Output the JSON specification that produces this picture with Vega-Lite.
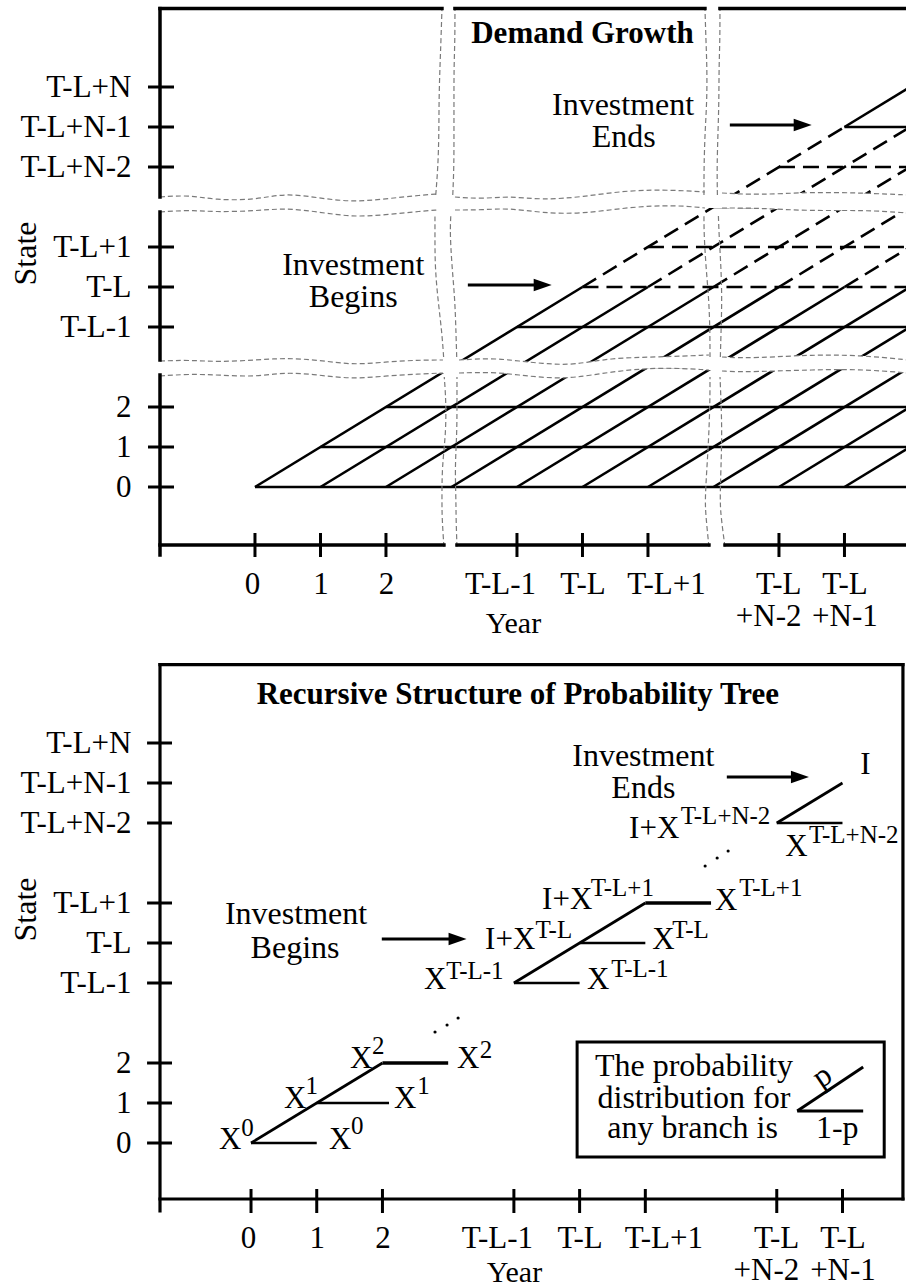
{
  "$schema": "https://vega.github.io/schema/vega-lite/v6.json",
  "background": "white",
  "padding": {"left": 9, "top": 5, "right": 0, "bottom": 0},
  "spacing": 24,
  "config": {"view": {"stroke": null}, "font": "Liberation Serif"},
  "datasets": {
    "latticeTop": [
      {"u": 0, "v": 0, "u2": 9.97, "v2": 0, "period": "normal"},
      {"u": 1, "v": 1, "u2": 9.97, "v2": 1, "period": "normal"},
      {"u": 2, "v": 2, "u2": 9.97, "v2": 2, "period": "normal"},
      {"u": 3, "v": 3, "u2": 9.97, "v2": 3, "period": "normal"},
      {"u": 4, "v": 4, "u2": 9.97, "v2": 4, "period": "normal"},
      {"u": 5, "v": 5, "u2": 9.97, "v2": 5, "period": "investment"},
      {"u": 6, "v": 6, "u2": 9.97, "v2": 6, "period": "investment"},
      {"u": 7, "v": 7, "u2": 9.97, "v2": 7, "period": "investment"},
      {"u": 8, "v": 8, "u2": 9.97, "v2": 8, "period": "investment"},
      {"u": 9, "v": 9, "u2": 9.97, "v2": 9, "period": "normal"},
      {"u": 0, "v": 0, "u2": 5, "v2": 5, "period": "normal"},
      {"u": 5, "v": 5, "u2": 9, "v2": 9, "period": "investment"},
      {"u": 9, "v": 9, "u2": 9.97, "v2": 9.97, "period": "normal"},
      {"u": 1, "v": 0, "u2": 6, "v2": 5, "period": "normal"},
      {"u": 6, "v": 5, "u2": 9.97, "v2": 8.97, "period": "investment"},
      {"u": 2, "v": 0, "u2": 7, "v2": 5, "period": "normal"},
      {"u": 7, "v": 5, "u2": 9.97, "v2": 7.97, "period": "investment"},
      {"u": 3, "v": 0, "u2": 8, "v2": 5, "period": "normal"},
      {"u": 8, "v": 5, "u2": 9.97, "v2": 6.97, "period": "investment"},
      {"u": 4, "v": 0, "u2": 9, "v2": 5, "period": "normal"},
      {"u": 9, "v": 5, "u2": 9.97, "v2": 5.97, "period": "investment"},
      {"u": 5, "v": 0, "u2": 9.97, "v2": 4.97, "period": "normal"},
      {"u": 6, "v": 0, "u2": 9.97, "v2": 3.97, "period": "normal"},
      {"u": 7, "v": 0, "u2": 9.97, "v2": 2.97, "period": "normal"},
      {"u": 8, "v": 0, "u2": 9.97, "v2": 1.97, "period": "normal"},
      {"u": 9, "v": 0, "u2": 9.97, "v2": 0.97, "period": "normal"}
    ],
    "gapsH": [
      {"gap": "h1", "seg": "L", "u": -1.45, "vt": 7.25, "vb": 6.875},
      {"gap": "h1", "seg": "L", "u": -1.008, "vt": 7.3, "vb": 6.925},
      {"gap": "h1", "seg": "L", "u": -0.611, "vt": 7.175, "vb": 6.875},
      {"gap": "h1", "seg": "L", "u": 0, "vt": 7.175, "vb": 6.9},
      {"gap": "h1", "seg": "L", "u": 0.458, "vt": 7.35, "vb": 6.975},
      {"gap": "h1", "seg": "L", "u": 0.977, "vt": 7.225, "vb": 6.875},
      {"gap": "h1", "seg": "L", "u": 1.481, "vt": 7.125, "vb": 6.75},
      {"gap": "h1", "seg": "L", "u": 1.985, "vt": 7.2, "vb": 6.8},
      {"gap": "h1", "seg": "L", "u": 2.55, "vt": 7.3, "vb": 6.9},
      {"gap": "h1", "seg": "L", "u": 2.794, "vt": 7.325, "vb": 6.925},
      {"gap": "h1", "seg": "M", "u": 3.053, "vt": 7.25, "vb": 6.925},
      {"gap": "h1", "seg": "M", "u": 3.466, "vt": 7.2, "vb": 6.925},
      {"gap": "h1", "seg": "M", "u": 3.878, "vt": 7.275, "vb": 6.975},
      {"gap": "h1", "seg": "M", "u": 4.382, "vt": 7.175, "vb": 6.85},
      {"gap": "h1", "seg": "M", "u": 4.992, "vt": 7.25, "vb": 6.825},
      {"gap": "h1", "seg": "M", "u": 5.71, "vt": 7.425, "vb": 7.0},
      {"gap": "h1", "seg": "M", "u": 6.412, "vt": 7.425, "vb": 7.05},
      {"gap": "h1", "seg": "M", "u": 6.87, "vt": 7.375, "vb": 6.975},
      {"gap": "h1", "seg": "R", "u": 7.13, "vt": 7.35, "vb": 6.975},
      {"gap": "h1", "seg": "R", "u": 7.695, "vt": 7.3, "vb": 6.975},
      {"gap": "h1", "seg": "R", "u": 8.458, "vt": 7.375, "vb": 6.9},
      {"gap": "h1", "seg": "R", "u": 9.313, "vt": 7.35, "vb": 6.925},
      {"gap": "h1", "seg": "R", "u": 9.97, "vt": 7.3, "vb": 6.85},
      {"gap": "h2", "seg": "L", "u": -1.45, "vt": 3.15, "vb": 2.775},
      {"gap": "h2", "seg": "L", "u": -1.008, "vt": 3.175, "vb": 2.825},
      {"gap": "h2", "seg": "L", "u": -0.55, "vt": 3.125, "vb": 2.8},
      {"gap": "h2", "seg": "L", "u": 0, "vt": 3.175, "vb": 2.75},
      {"gap": "h2", "seg": "L", "u": 0.458, "vt": 3.225, "vb": 2.875},
      {"gap": "h2", "seg": "L", "u": 0.977, "vt": 3.175, "vb": 2.8},
      {"gap": "h2", "seg": "L", "u": 1.481, "vt": 3.05, "vb": 2.7},
      {"gap": "h2", "seg": "L", "u": 1.985, "vt": 3.125, "vb": 2.775},
      {"gap": "h2", "seg": "L", "u": 2.504, "vt": 3.175, "vb": 2.825},
      {"gap": "h2", "seg": "L", "u": 2.87, "vt": 3.175, "vb": 2.85},
      {"gap": "h2", "seg": "M", "u": 3.115, "vt": 3.175, "vb": 2.85},
      {"gap": "h2", "seg": "M", "u": 3.618, "vt": 3.225, "vb": 2.875},
      {"gap": "h2", "seg": "M", "u": 4.031, "vt": 3.15, "vb": 2.8},
      {"gap": "h2", "seg": "M", "u": 4.458, "vt": 3.075, "vb": 2.725},
      {"gap": "h2", "seg": "M", "u": 4.885, "vt": 3.05, "vb": 2.725},
      {"gap": "h2", "seg": "M", "u": 5.405, "vt": 3.225, "vb": 2.875},
      {"gap": "h2", "seg": "M", "u": 6.168, "vt": 3.25, "vb": 3.0},
      {"gap": "h2", "seg": "M", "u": 6.931, "vt": 3.3, "vb": 2.925},
      {"gap": "h2", "seg": "R", "u": 7.13, "vt": 3.25, "vb": 2.9},
      {"gap": "h2", "seg": "R", "u": 7.435, "vt": 3.225, "vb": 2.875},
      {"gap": "h2", "seg": "R", "u": 7.939, "vt": 3.25, "vb": 2.9},
      {"gap": "h2", "seg": "R", "u": 8.458, "vt": 3.3, "vb": 2.925},
      {"gap": "h2", "seg": "R", "u": 9.221, "vt": 3.3, "vb": 2.95},
      {"gap": "h2", "seg": "R", "u": 9.97, "vt": 3.175, "vb": 2.85}
    ],
    "gapsV": [
      {"gap": "v1", "seg": "T", "v": 11.975, "ul": 2.855, "ur": 3.053},
      {"gap": "v1", "seg": "T", "v": 11.175, "ul": 2.84, "ur": 3.053},
      {"gap": "v1", "seg": "T", "v": 10.5, "ul": 2.824, "ur": 3.038},
      {"gap": "v1", "seg": "T", "v": 9.675, "ul": 2.809, "ur": 3.038},
      {"gap": "v1", "seg": "T", "v": 8.85, "ul": 2.809, "ur": 3.038},
      {"gap": "v1", "seg": "T", "v": 8.0, "ul": 2.794, "ur": 3.038},
      {"gap": "v1", "seg": "T", "v": 7.3, "ul": 2.76, "ur": 3.02},
      {"gap": "v1", "seg": "X", "v": 7.05, "ul": 2.748, "ur": 3.0},
      {"gap": "v1", "seg": "M", "v": 6.8, "ul": 2.748, "ur": 2.99},
      {"gap": "v1", "seg": "M", "v": 6.35, "ul": 2.748, "ur": 2.977},
      {"gap": "v1", "seg": "M", "v": 5.5, "ul": 2.748, "ur": 3.008},
      {"gap": "v1", "seg": "M", "v": 4.675, "ul": 2.794, "ur": 3.053},
      {"gap": "v1", "seg": "M", "v": 3.85, "ul": 2.855, "ur": 3.069},
      {"gap": "v1", "seg": "M", "v": 3.25, "ul": 2.88, "ur": 3.08},
      {"gap": "v1", "seg": "X", "v": 3.0, "ul": 2.885, "ur": 3.084},
      {"gap": "v1", "seg": "B", "v": 2.75, "ul": 2.89, "ur": 3.084},
      {"gap": "v1", "seg": "B", "v": 2.175, "ul": 2.916, "ur": 3.084},
      {"gap": "v1", "seg": "B", "v": 1.35, "ul": 2.916, "ur": 3.084},
      {"gap": "v1", "seg": "B", "v": 0.5, "ul": 2.855, "ur": 3.053},
      {"gap": "v1", "seg": "B", "v": -0.325, "ul": 2.855, "ur": 3.069},
      {"gap": "v1", "seg": "B", "v": -0.75, "ul": 2.855, "ur": 3.069},
      {"gap": "v1", "seg": "B", "v": -1.5, "ul": 2.885, "ur": 3.084},
      {"gap": "v2", "seg": "T", "v": 11.975, "ul": 6.87, "ur": 7.099},
      {"gap": "v2", "seg": "T", "v": 11.175, "ul": 6.885, "ur": 7.099},
      {"gap": "v2", "seg": "T", "v": 10.5, "ul": 6.901, "ur": 7.084},
      {"gap": "v2", "seg": "T", "v": 9.675, "ul": 6.901, "ur": 7.084},
      {"gap": "v2", "seg": "T", "v": 8.85, "ul": 6.87, "ur": 7.069},
      {"gap": "v2", "seg": "T", "v": 8.0, "ul": 6.855, "ur": 7.053},
      {"gap": "v2", "seg": "T", "v": 7.3, "ul": 6.855, "ur": 7.06},
      {"gap": "v2", "seg": "X", "v": 7.05, "ul": 6.855, "ur": 7.07},
      {"gap": "v2", "seg": "M", "v": 6.8, "ul": 6.855, "ur": 7.075},
      {"gap": "v2", "seg": "M", "v": 6.35, "ul": 6.855, "ur": 7.084},
      {"gap": "v2", "seg": "M", "v": 5.5, "ul": 6.885, "ur": 7.115},
      {"gap": "v2", "seg": "M", "v": 4.675, "ul": 6.931, "ur": 7.13},
      {"gap": "v2", "seg": "M", "v": 3.85, "ul": 6.947, "ur": 7.115},
      {"gap": "v2", "seg": "M", "v": 3.25, "ul": 6.947, "ur": 7.105},
      {"gap": "v2", "seg": "X", "v": 3.0, "ul": 6.947, "ur": 7.099},
      {"gap": "v2", "seg": "B", "v": 2.75, "ul": 6.947, "ur": 7.1},
      {"gap": "v2", "seg": "B", "v": 2.175, "ul": 6.947, "ur": 7.115},
      {"gap": "v2", "seg": "B", "v": 1.35, "ul": 6.931, "ur": 7.13},
      {"gap": "v2", "seg": "B", "v": 0.5, "ul": 6.901, "ur": 7.115},
      {"gap": "v2", "seg": "B", "v": -0.325, "ul": 6.87, "ur": 7.099},
      {"gap": "v2", "seg": "B", "v": -0.75, "ul": 6.885, "ur": 7.115},
      {"gap": "v2", "seg": "B", "v": -1.5, "ul": 6.931, "ur": 7.176}
    ],
    "framesTop": [
      {"u": -1.45, "v": 11.96, "u2": 2.855, "v2": 11.96},
      {"u": 3.053, "v": 11.96, "u2": 6.87, "v2": 11.96},
      {"u": 7.099, "v": 11.96, "u2": 9.97, "v2": 11.96},
      {"u": -1.45, "v": 11.96, "u2": -1.45, "v2": 7.25},
      {"u": -1.45, "v": 6.875, "u2": -1.45, "v2": 3.175},
      {"u": -1.45, "v": 2.8, "u2": -1.45, "v2": -1.7},
      {"u": -1.45, "v": -1.45, "u2": 2.885, "v2": -1.45},
      {"u": 3.084, "v": -1.45, "u2": 6.931, "v2": -1.45},
      {"u": 7.176, "v": -1.45, "u2": 9.97, "v2": -1.45}
    ],
    "ticksTop": [
      {"u": 0, "v": -1.75, "u2": 0, "v2": -1.15},
      {"u": 1, "v": -1.75, "u2": 1, "v2": -1.15},
      {"u": 2, "v": -1.75, "u2": 2, "v2": -1.15},
      {"u": 4, "v": -1.75, "u2": 4, "v2": -1.15},
      {"u": 5, "v": -1.75, "u2": 5, "v2": -1.15},
      {"u": 6, "v": -1.75, "u2": 6, "v2": -1.15},
      {"u": 8, "v": -1.75, "u2": 8, "v2": -1.15},
      {"u": 9, "v": -1.75, "u2": 9, "v2": -1.15},
      {"u": -1.633, "v": 0, "u2": -1.236, "v2": 0},
      {"u": -1.633, "v": 1, "u2": -1.236, "v2": 1},
      {"u": -1.633, "v": 2, "u2": -1.236, "v2": 2},
      {"u": -1.633, "v": 4, "u2": -1.236, "v2": 4},
      {"u": -1.633, "v": 5, "u2": -1.236, "v2": 5},
      {"u": -1.633, "v": 6, "u2": -1.236, "v2": 6},
      {"u": -1.633, "v": 8, "u2": -1.236, "v2": 8},
      {"u": -1.633, "v": 9, "u2": -1.236, "v2": 9},
      {"u": -1.633, "v": 10, "u2": -1.236, "v2": 10}
    ],
    "titleTop": [{"u": 5.0, "v": 11.1, "t": "Demand Growth"}],
    "textTop": [
      {"u": 5.62, "v": 9.3, "t": "Investment"},
      {"u": 5.63, "v": 8.5, "t": "Ends"},
      {"u": 1.5, "v": 5.3, "t": "Investment"},
      {"u": 1.5, "v": 4.5, "t": "Begins"}
    ],
    "arrowsTop": [
      {"u": 3.25, "ue": 4.43, "u2": 4.53, "v": 5.05},
      {"u": 7.25, "ue": 8.4, "u2": 8.5, "v": 9.05}
    ],
    "treeBottom": [
      {"u": 0, "v": 0, "u2": 2, "v2": 2},
      {"u": 0, "v": 0, "u2": 1, "v2": 0},
      {"u": 1, "v": 1, "u2": 2.1, "v2": 1},
      {"u": 4, "v": 4, "u2": 6, "v2": 6},
      {"u": 4, "v": 4, "u2": 5, "v2": 4},
      {"u": 5, "v": 5, "u2": 6, "v2": 5},
      {"u": 8, "v": 8, "u2": 9, "v2": 9},
      {"u": 8, "v": 8, "u2": 9, "v2": 8}
    ],
    "treeBottomSpan": [
      {"u": 2, "v": 2, "u2": 3, "v2": 2},
      {"u": 6, "v": 6, "u2": 7, "v2": 6}
    ],
    "legendBranch": [
      {"u": 8.311, "v": 0.8, "u2": 9.315, "v2": 1.9},
      {"u": 8.311, "v": 0.8, "u2": 9.315, "v2": 0.8}
    ],
    "legendBox": [{"u": 4.962, "u2": 9.635, "v": 2.525, "v2": -0.35}],
    "framesBottom": [
      {"u": -1.385, "v": 11.96, "u2": 9.92, "v2": 11.96},
      {"u": -1.385, "v": 11.96, "u2": -1.385, "v2": -1.7},
      {"u": -1.385, "v": -1.4, "u2": 9.92, "v2": -1.4},
      {"u": 9.92, "v": 11.96, "u2": 9.92, "v2": -1.4}
    ],
    "ticksBottom": [
      {"u": 0, "v": -1.75, "u2": 0, "v2": -1.15},
      {"u": 1, "v": -1.75, "u2": 1, "v2": -1.15},
      {"u": 2, "v": -1.75, "u2": 2, "v2": -1.15},
      {"u": 4, "v": -1.75, "u2": 4, "v2": -1.15},
      {"u": 5, "v": -1.75, "u2": 5, "v2": -1.15},
      {"u": 6, "v": -1.75, "u2": 6, "v2": -1.15},
      {"u": 8, "v": -1.75, "u2": 8, "v2": -1.15},
      {"u": 9, "v": -1.75, "u2": 9, "v2": -1.15},
      {"u": -1.582, "v": 0, "u2": -1.202, "v2": 0},
      {"u": -1.582, "v": 1, "u2": -1.202, "v2": 1},
      {"u": -1.582, "v": 2, "u2": -1.202, "v2": 2},
      {"u": -1.582, "v": 4, "u2": -1.202, "v2": 4},
      {"u": -1.582, "v": 5, "u2": -1.202, "v2": 5},
      {"u": -1.582, "v": 6, "u2": -1.202, "v2": 6},
      {"u": -1.582, "v": 8, "u2": -1.202, "v2": 8},
      {"u": -1.582, "v": 9, "u2": -1.202, "v2": 9},
      {"u": -1.582, "v": 10, "u2": -1.202, "v2": 10}
    ],
    "titleBottom": [{"u": 4.06, "v": 10.975, "t": "Recursive Structure of Probability Tree"}],
    "textBottom": [
      {"u": 5.97, "v": 9.425, "t": "Investment"},
      {"u": 5.97, "v": 8.625, "t": "Ends"},
      {"u": 0.685, "v": 5.475, "t": "Investment"},
      {"u": 0.67, "v": 4.625, "t": "Begins"},
      {"u": 6.74, "v": 1.675, "t": "The probability"},
      {"u": 6.74, "v": 0.875, "t": "distribution for"},
      {"u": 6.72, "v": 0.125, "t": "any branch is"},
      {"u": 8.92, "v": 0.125, "t": "1-p"}
    ],
    "nodeLabels": [
      {"u": -0.487, "v": -0.15, "t": "X"},
      {"u": 1.187, "v": -0.15, "t": "X"},
      {"u": 0.502, "v": 0.875, "t": "X"},
      {"u": 2.177, "v": 0.875, "t": "X"},
      {"u": 1.507, "v": 1.875, "t": "X"},
      {"u": 3.135, "v": 1.875, "t": "X"},
      {"u": 2.633, "v": 3.85, "t": "X"},
      {"u": 5.114, "v": 3.85, "t": "X"},
      {"u": 3.562, "v": 4.85, "t": "I+X"},
      {"u": 6.104, "v": 4.85, "t": "X"},
      {"u": 4.429, "v": 5.85, "t": "I+X"},
      {"u": 7.062, "v": 5.825, "t": "X"},
      {"u": 5.753, "v": 7.625, "t": "I+X"},
      {"u": 8.128, "v": 7.175, "t": "X"},
      {"u": 9.269, "v": 9.225, "t": "I"}
    ],
    "superscripts": [
      {"u": -0.15, "v": 0.175, "t": "0"},
      {"u": 1.52, "v": 0.225, "t": "0"},
      {"u": 0.83, "v": 1.225, "t": "1"},
      {"u": 2.53, "v": 1.225, "t": "1"},
      {"u": 1.84, "v": 2.225, "t": "2"},
      {"u": 3.48, "v": 2.125, "t": "2"},
      {"u": 2.97, "v": 4.1, "t": "T-L-1"},
      {"u": 5.48, "v": 4.15, "t": "T-L-1"},
      {"u": 4.33, "v": 5.125, "t": "T-L"},
      {"u": 6.41, "v": 5.125, "t": "T-L"},
      {"u": 5.17, "v": 6.175, "t": "T-L+1"},
      {"u": 7.43, "v": 6.175, "t": "T-L+1"},
      {"u": 6.54, "v": 7.975, "t": "T-L+N-2"},
      {"u": 8.49, "v": 7.5, "t": "T-L+N-2"}
    ],
    "branchP": [{"u": 8.69, "v": 1.675, "t": "p"}],
    "dotsBottom": [
      {"u": 2.8, "v": 2.775},
      {"u": 2.983, "v": 2.95},
      {"u": 3.151, "v": 3.125},
      {"u": 6.91, "v": 6.925},
      {"u": 7.093, "v": 7.125},
      {"u": 7.26, "v": 7.3}
    ],
    "arrowsBottom": [
      {"u": 1.99, "ue": 3.18, "u2": 3.28, "v": 5.1},
      {"u": 7.24, "ue": 8.39, "u2": 8.49, "v": 9.15}
    ]
  },
  "vconcat": [
    {
      "width": 748,
      "height": 537,
      "layer": [
        {
          "data": {"name": "latticeTop"},
          "transform": [{"filter": "datum.period == 'normal'"}],
          "mark": {"type": "rule", "color": "black", "strokeWidth": 2.6},
          "encoding": {
            "x": {"field": "u", "type": "quantitative", "scale": {"domain": [-1.45, 9.97], "nice": false, "zero": false}},
            "y": {"field": "v", "type": "quantitative", "scale": {"domain": [-1.45, 11.975], "nice": false, "zero": false}},
            "x2": {"field": "u2"},
            "y2": {"field": "v2"}
          }
        },
        {
          "data": {"name": "latticeTop"},
          "transform": [{"filter": "datum.period == 'investment'"}],
          "mark": {"type": "rule", "color": "black", "strokeWidth": 2.6, "strokeDash": [16, 8]},
          "encoding": {
            "x": {"field": "u", "type": "quantitative", "scale": {"domain": [-1.45, 9.97], "nice": false, "zero": false}},
            "y": {"field": "v", "type": "quantitative", "scale": {"domain": [-1.45, 11.975], "nice": false, "zero": false}},
            "x2": {"field": "u2"},
            "y2": {"field": "v2"}
          }
        },
        {
          "data": {"name": "gapsH"},
          "mark": {"type": "area", "orient": "vertical", "interpolate": "basis", "fill": "white", "opacity": 1},
          "encoding": {
            "x": {"field": "u", "type": "quantitative", "scale": {"domain": [-1.45, 9.97], "nice": false, "zero": false}},
            "y": {"field": "vt", "type": "quantitative", "scale": {"domain": [-1.45, 11.975], "nice": false, "zero": false}},
            "y2": {"field": "vb"},
            "detail": {"field": "gap"}
          }
        },
        {
          "data": {"name": "gapsV"},
          "mark": {"type": "area", "orient": "horizontal", "interpolate": "basis", "fill": "white", "opacity": 1},
          "encoding": {
            "y": {"field": "v", "type": "quantitative", "scale": {"domain": [-1.45, 11.975], "nice": false, "zero": false}},
            "x": {"field": "ul", "type": "quantitative", "scale": {"domain": [-1.45, 9.97], "nice": false, "zero": false}},
            "x2": {"field": "ur"},
            "detail": {"field": "gap"},
            "order": {"field": "v", "type": "quantitative"}
          }
        },
        {
          "data": {"name": "gapsH"},
          "mark": {"type": "line", "interpolate": "basis", "color": "#7a7a7a", "strokeWidth": 1.2, "strokeDash": [5, 3]},
          "encoding": {
            "x": {"field": "u", "type": "quantitative", "scale": {"domain": [-1.45, 9.97], "nice": false, "zero": false}},
            "y": {"field": "vt", "type": "quantitative", "scale": {"domain": [-1.45, 11.975], "nice": false, "zero": false}},
            "detail": [{"field": "gap"}, {"field": "seg"}]
          }
        },
        {
          "data": {"name": "gapsH"},
          "mark": {"type": "line", "interpolate": "basis", "color": "#7a7a7a", "strokeWidth": 1.2, "strokeDash": [5, 3]},
          "encoding": {
            "x": {"field": "u", "type": "quantitative", "scale": {"domain": [-1.45, 9.97], "nice": false, "zero": false}},
            "y": {"field": "vb", "type": "quantitative", "scale": {"domain": [-1.45, 11.975], "nice": false, "zero": false}},
            "detail": [{"field": "gap"}, {"field": "seg"}]
          }
        },
        {
          "data": {"name": "gapsV"},
          "transform": [{"filter": "datum.seg != 'X'"}],
          "mark": {"type": "line", "interpolate": "basis", "color": "#7a7a7a", "strokeWidth": 1.2, "strokeDash": [5, 3]},
          "encoding": {
            "x": {"field": "ul", "type": "quantitative", "scale": {"domain": [-1.45, 9.97], "nice": false, "zero": false}},
            "y": {"field": "v", "type": "quantitative", "scale": {"domain": [-1.45, 11.975], "nice": false, "zero": false}},
            "detail": [{"field": "gap"}, {"field": "seg"}],
            "order": {"field": "v", "type": "quantitative"}
          }
        },
        {
          "data": {"name": "gapsV"},
          "transform": [{"filter": "datum.seg != 'X'"}],
          "mark": {"type": "line", "interpolate": "basis", "color": "#7a7a7a", "strokeWidth": 1.2, "strokeDash": [5, 3]},
          "encoding": {
            "x": {"field": "ur", "type": "quantitative", "scale": {"domain": [-1.45, 9.97], "nice": false, "zero": false}},
            "y": {"field": "v", "type": "quantitative", "scale": {"domain": [-1.45, 11.975], "nice": false, "zero": false}},
            "detail": [{"field": "gap"}, {"field": "seg"}],
            "order": {"field": "v", "type": "quantitative"}
          }
        },
        {
          "data": {"name": "framesTop"},
          "mark": {"type": "rule", "color": "black", "strokeWidth": 3.5, "strokeCap": "square"},
          "encoding": {
            "x": {
              "field": "u", "type": "quantitative",
              "scale": {"domain": [-1.45, 9.97], "nice": false, "zero": false},
              "axis": {
                "title": "Year", "values": [0, 1, 2, 4, 5, 6, 8, 9],
                "labelExpr": "['0','1','2','','T-L-1','T-L','T-L+1','',['T-L','+N-2'],['T-L','+N-1']][datum.value]",
                "domain": false, "ticks": false, "tickSize": 0, "grid": false,
                "labelFont": "Liberation Serif", "labelFontSize": 31, "labelColor": "black", "labelPadding": 24, "labelLineHeight": 32,
                "labelAlign": {"expr": "datum.value == 8 ? 'right' : 'center'"}, "labelBaseline": "top", "labelFlush": false, "labelOverlap": false,
                "labelOffset": {"expr": "datum.value == 4 ? -17 : (datum.value == 6 ? 18 : (datum.value == 0 ? -3 : (datum.value == 8 ? 22 : 0)))"},
                "titleFont": "Liberation Serif", "titleFontSize": 30, "titleFontWeight": "normal", "titleColor": "black",
                "titleX": 353, "titleY": 87, "titleAlign": "center", "titleBaseline": "alphabetic"
              }
            },
            "y": {
              "field": "v", "type": "quantitative",
              "scale": {"domain": [-1.45, 11.975], "nice": false, "zero": false},
              "axis": {
                "title": "State", "values": [0, 1, 2, 4, 5, 6, 8, 9, 10],
                "labelExpr": "['0','1','2','','T-L-1','T-L','T-L+1','','T-L+N-2','T-L+N-1','T-L+N'][datum.value]",
                "domain": false, "ticks": false, "tickSize": 0, "grid": false,
                "labelFont": "Liberation Serif", "labelFontSize": 31, "labelColor": "black", "labelPadding": 29,
                "labelAlign": "right", "labelBaseline": "middle", "labelOverlap": false, "labelFlush": false,
                "titleFont": "Liberation Serif", "titleFontSize": 32, "titleFontWeight": "normal", "titleColor": "black",
                "titleAngle": 270, "titleX": -125, "titleY": 245, "titleAlign": "center", "titleBaseline": "alphabetic"
              }
            },
            "x2": {"field": "u2"},
            "y2": {"field": "v2"}
          }
        },
        {
          "data": {"name": "ticksTop"},
          "mark": {"type": "rule", "color": "black", "strokeWidth": 3},
          "encoding": {
            "x": {"field": "u", "type": "quantitative", "scale": {"domain": [-1.45, 9.97], "nice": false, "zero": false}},
            "y": {"field": "v", "type": "quantitative", "scale": {"domain": [-1.45, 11.975], "nice": false, "zero": false}},
            "x2": {"field": "u2"},
            "y2": {"field": "v2"}
          }
        },
        {
          "data": {"name": "titleTop"},
          "mark": {"type": "text", "font": "Liberation Serif", "fontSize": 31, "fontWeight": "bold", "align": "center", "baseline": "alphabetic", "color": "black"},
          "encoding": {
            "x": {"field": "u", "type": "quantitative", "scale": {"domain": [-1.45, 9.97], "nice": false, "zero": false}},
            "y": {"field": "v", "type": "quantitative", "scale": {"domain": [-1.45, 11.975], "nice": false, "zero": false}},
            "text": {"field": "t"}
          }
        },
        {
          "data": {"name": "textTop"},
          "mark": {"type": "text", "font": "Liberation Serif", "fontSize": 32, "align": "center", "baseline": "alphabetic", "color": "black"},
          "encoding": {
            "x": {"field": "u", "type": "quantitative", "scale": {"domain": [-1.45, 9.97], "nice": false, "zero": false}},
            "y": {"field": "v", "type": "quantitative", "scale": {"domain": [-1.45, 11.975], "nice": false, "zero": false}},
            "text": {"field": "t"}
          }
        },
        {
          "data": {"name": "arrowsTop"},
          "mark": {"type": "rule", "color": "black", "strokeWidth": 3},
          "encoding": {
            "x": {"field": "u", "type": "quantitative", "scale": {"domain": [-1.45, 9.97], "nice": false, "zero": false}},
            "x2": {"field": "ue"},
            "y": {"field": "v", "type": "quantitative", "scale": {"domain": [-1.45, 11.975], "nice": false, "zero": false}}
          }
        },
        {
          "data": {"name": "arrowsTop"},
          "mark": {"type": "point", "shape": "M -2,-0.7 L 0,0 L -2,0.7 Z", "filled": true, "size": 324, "color": "black", "opacity": 1, "strokeWidth": 0},
          "encoding": {
            "x": {"field": "u2", "type": "quantitative", "scale": {"domain": [-1.45, 9.97], "nice": false, "zero": false}},
            "y": {"field": "v", "type": "quantitative", "scale": {"domain": [-1.45, 11.975], "nice": false, "zero": false}}
          }
        }
      ]
    },
    {
      "width": 748,
      "height": 535,
      "layer": [
        {
          "data": {"name": "framesBottom"},
          "mark": {"type": "rule", "color": "black", "strokeWidth": 3.2, "strokeCap": "square"},
          "encoding": {
            "x": {
              "field": "u", "type": "quantitative",
              "scale": {"domain": [-1.385, 9.997], "nice": false, "zero": false},
              "axis": {
                "title": "Year", "values": [0, 1, 2, 4, 5, 6, 8, 9],
                "labelExpr": "['0','1','2','','T-L-1','T-L','T-L+1','',['T-L','+N-2'],['T-L','+N-1']][datum.value]",
                "domain": false, "ticks": false, "tickSize": 0, "grid": false,
                "labelFont": "Liberation Serif", "labelFontSize": 31, "labelColor": "black", "labelPadding": 24, "labelLineHeight": 32,
                "labelAlign": {"expr": "datum.value == 8 ? 'right' : 'center'"}, "labelBaseline": "top", "labelFlush": false, "labelOverlap": false,
                "labelOffset": {"expr": "datum.value == 4 ? -17 : (datum.value == 6 ? 18 : (datum.value == 0 ? -3 : (datum.value == 8 ? 22 : 0)))"},
                "titleFont": "Liberation Serif", "titleFontSize": 30, "titleFontWeight": "normal", "titleColor": "black",
                "titleX": 354, "titleY": 82, "titleAlign": "center", "titleBaseline": "alphabetic"
              }
            },
            "y": {
              "field": "v", "type": "quantitative",
              "scale": {"domain": [-1.4, 11.975], "nice": false, "zero": false},
              "axis": {
                "title": "State", "values": [0, 1, 2, 4, 5, 6, 8, 9, 10],
                "labelExpr": "['0','1','2','','T-L-1','T-L','T-L+1','','T-L+N-2','T-L+N-1','T-L+N'][datum.value]",
                "domain": false, "ticks": false, "tickSize": 0, "grid": false,
                "labelFont": "Liberation Serif", "labelFontSize": 31, "labelColor": "black", "labelPadding": 29,
                "labelAlign": "right", "labelBaseline": "middle", "labelOverlap": false, "labelFlush": false,
                "titleFont": "Liberation Serif", "titleFontSize": 32, "titleFontWeight": "normal", "titleColor": "black",
                "titleAngle": 270, "titleX": -125, "titleY": 245, "titleAlign": "center", "titleBaseline": "alphabetic"
              }
            },
            "x2": {"field": "u2"},
            "y2": {"field": "v2"}
          }
        },
        {
          "data": {"name": "ticksBottom"},
          "mark": {"type": "rule", "color": "black", "strokeWidth": 3},
          "encoding": {
            "x": {"field": "u", "type": "quantitative", "scale": {"domain": [-1.385, 9.997], "nice": false, "zero": false}},
            "y": {"field": "v", "type": "quantitative", "scale": {"domain": [-1.4, 11.975], "nice": false, "zero": false}},
            "x2": {"field": "u2"},
            "y2": {"field": "v2"}
          }
        },
        {
          "data": {"name": "treeBottom"},
          "mark": {"type": "rule", "color": "black", "strokeWidth": 2.7},
          "encoding": {
            "x": {"field": "u", "type": "quantitative", "scale": {"domain": [-1.385, 9.997], "nice": false, "zero": false}},
            "y": {"field": "v", "type": "quantitative", "scale": {"domain": [-1.4, 11.975], "nice": false, "zero": false}},
            "x2": {"field": "u2"},
            "y2": {"field": "v2"}
          }
        },
        {
          "data": {"name": "treeBottomSpan"},
          "mark": {"type": "rule", "color": "black", "strokeWidth": 3.6},
          "encoding": {
            "x": {"field": "u", "type": "quantitative", "scale": {"domain": [-1.385, 9.997], "nice": false, "zero": false}},
            "y": {"field": "v", "type": "quantitative", "scale": {"domain": [-1.4, 11.975], "nice": false, "zero": false}},
            "x2": {"field": "u2"},
            "y2": {"field": "v2"}
          }
        },
        {
          "data": {"name": "legendBox"},
          "mark": {"type": "rect", "filled": false, "color": "black", "strokeWidth": 3},
          "encoding": {
            "x": {"field": "u", "type": "quantitative", "scale": {"domain": [-1.385, 9.997], "nice": false, "zero": false}},
            "y": {"field": "v", "type": "quantitative", "scale": {"domain": [-1.4, 11.975], "nice": false, "zero": false}},
            "x2": {"field": "u2"},
            "y2": {"field": "v2"}
          }
        },
        {
          "data": {"name": "legendBranch"},
          "mark": {"type": "rule", "color": "black", "strokeWidth": 3},
          "encoding": {
            "x": {"field": "u", "type": "quantitative", "scale": {"domain": [-1.385, 9.997], "nice": false, "zero": false}},
            "y": {"field": "v", "type": "quantitative", "scale": {"domain": [-1.4, 11.975], "nice": false, "zero": false}},
            "x2": {"field": "u2"},
            "y2": {"field": "v2"}
          }
        },
        {
          "data": {"name": "dotsBottom"},
          "mark": {"type": "point", "shape": "circle", "filled": true, "size": 10, "color": "black", "opacity": 1},
          "encoding": {
            "x": {"field": "u", "type": "quantitative", "scale": {"domain": [-1.385, 9.997], "nice": false, "zero": false}},
            "y": {"field": "v", "type": "quantitative", "scale": {"domain": [-1.4, 11.975], "nice": false, "zero": false}}
          }
        },
        {
          "data": {"name": "titleBottom"},
          "mark": {"type": "text", "font": "Liberation Serif", "fontSize": 31, "fontWeight": "bold", "align": "center", "baseline": "alphabetic", "color": "black"},
          "encoding": {
            "x": {"field": "u", "type": "quantitative", "scale": {"domain": [-1.385, 9.997], "nice": false, "zero": false}},
            "y": {"field": "v", "type": "quantitative", "scale": {"domain": [-1.4, 11.975], "nice": false, "zero": false}},
            "text": {"field": "t"}
          }
        },
        {
          "data": {"name": "textBottom"},
          "mark": {"type": "text", "font": "Liberation Serif", "fontSize": 32, "align": "center", "baseline": "alphabetic", "color": "black"},
          "encoding": {
            "x": {"field": "u", "type": "quantitative", "scale": {"domain": [-1.385, 9.997], "nice": false, "zero": false}},
            "y": {"field": "v", "type": "quantitative", "scale": {"domain": [-1.4, 11.975], "nice": false, "zero": false}},
            "text": {"field": "t"}
          }
        },
        {
          "data": {"name": "nodeLabels"},
          "mark": {"type": "text", "font": "Liberation Serif", "fontSize": 31, "align": "left", "baseline": "alphabetic", "color": "black"},
          "encoding": {
            "x": {"field": "u", "type": "quantitative", "scale": {"domain": [-1.385, 9.997], "nice": false, "zero": false}},
            "y": {"field": "v", "type": "quantitative", "scale": {"domain": [-1.4, 11.975], "nice": false, "zero": false}},
            "text": {"field": "t"}
          }
        },
        {
          "data": {"name": "superscripts"},
          "mark": {"type": "text", "font": "Liberation Serif", "fontSize": 25, "align": "left", "baseline": "alphabetic", "color": "black"},
          "encoding": {
            "x": {"field": "u", "type": "quantitative", "scale": {"domain": [-1.385, 9.997], "nice": false, "zero": false}},
            "y": {"field": "v", "type": "quantitative", "scale": {"domain": [-1.4, 11.975], "nice": false, "zero": false}},
            "text": {"field": "t"}
          }
        },
        {
          "data": {"name": "branchP"},
          "mark": {"type": "text", "font": "Liberation Serif", "fontSize": 32, "align": "center", "baseline": "middle", "angle": 326, "color": "black"},
          "encoding": {
            "x": {"field": "u", "type": "quantitative", "scale": {"domain": [-1.385, 9.997], "nice": false, "zero": false}},
            "y": {"field": "v", "type": "quantitative", "scale": {"domain": [-1.4, 11.975], "nice": false, "zero": false}},
            "text": {"field": "t"}
          }
        },
        {
          "data": {"name": "arrowsBottom"},
          "mark": {"type": "rule", "color": "black", "strokeWidth": 3},
          "encoding": {
            "x": {"field": "u", "type": "quantitative", "scale": {"domain": [-1.385, 9.997], "nice": false, "zero": false}},
            "x2": {"field": "ue"},
            "y": {"field": "v", "type": "quantitative", "scale": {"domain": [-1.4, 11.975], "nice": false, "zero": false}}
          }
        },
        {
          "data": {"name": "arrowsBottom"},
          "mark": {"type": "point", "shape": "M -2,-0.7 L 0,0 L -2,0.7 Z", "filled": true, "size": 324, "color": "black", "opacity": 1, "strokeWidth": 0},
          "encoding": {
            "x": {"field": "u2", "type": "quantitative", "scale": {"domain": [-1.385, 9.997], "nice": false, "zero": false}},
            "y": {"field": "v", "type": "quantitative", "scale": {"domain": [-1.4, 11.975], "nice": false, "zero": false}}
          }
        }
      ]
    }
  ]
}
